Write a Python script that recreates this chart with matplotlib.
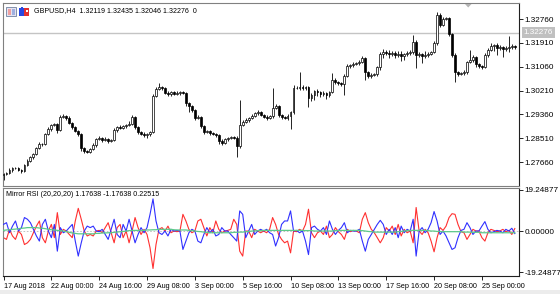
import matplotlib
matplotlib.use('Agg')
import matplotlib.pyplot as plt
from matplotlib.patches import Rectangle, Polygon
import matplotlib.transforms as mtransforms
import numpy as np

plt.rcParams['font.family'] = ['Liberation Sans', 'DejaVu Sans']

# ---------------- data ----------------
closes = [
    1.27233, 1.27268, 1.27375, 1.27447, 1.27447, 1.27375, 1.27340, 1.27554, 1.27696, 1.27839,
    1.27946, 1.28160, 1.28302, 1.28302, 1.28659, 1.28837, 1.28980, 1.29016, 1.28802, 1.29265,
    1.29301, 1.29230, 1.29051, 1.28909, 1.28766, 1.28659, 1.28160, 1.28053, 1.28017, 1.28124,
    1.28267, 1.28481, 1.28516, 1.28445, 1.28481, 1.28409, 1.28445, 1.28802, 1.28909, 1.28873,
    1.28944, 1.28980, 1.29016, 1.29265, 1.28909, 1.28730, 1.28659, 1.28623, 1.28659, 1.28730,
    1.30014, 1.30264, 1.30335, 1.30299, 1.30121, 1.30085, 1.30157, 1.30085, 1.30121, 1.30157,
    1.30121, 1.29765, 1.29658, 1.29515, 1.29230, 1.29265, 1.28944, 1.28730, 1.28766, 1.28695,
    1.28659, 1.28623, 1.28409, 1.28338, 1.28481, 1.28516, 1.28552, 1.28516, 1.28231, 1.28980,
    1.29087, 1.29158, 1.29230, 1.29301, 1.29408, 1.29444, 1.29337, 1.29265, 1.29230, 1.29301,
    1.29586, 1.29658, 1.29337, 1.29265, 1.29230, 1.29301, 1.29444, 1.30299, 1.30299, 1.30335,
    1.30299, 1.30335, 1.29943, 1.30050, 1.30192, 1.30157, 1.30085, 1.30121, 1.30050, 1.30157,
    1.30585, 1.30513, 1.30478, 1.30442, 1.30727, 1.31084, 1.31120, 1.31155, 1.31191, 1.31227,
    1.31369, 1.30870, 1.30727, 1.30763, 1.30799, 1.31048, 1.31512, 1.31583, 1.31548, 1.31512,
    1.31548, 1.31476, 1.31512, 1.31441, 1.31512, 1.31548, 1.31583, 1.31940, 1.31476, 1.31512,
    1.31441, 1.31476, 1.31512, 1.31583, 1.31904, 1.32903, 1.32546, 1.32760, 1.32796, 1.32225,
    1.31476, 1.30870, 1.30799, 1.30834, 1.30870, 1.31227, 1.31298, 1.31405, 1.31155, 1.31084,
    1.31048, 1.31476, 1.31655, 1.31797, 1.31833, 1.31726, 1.31761, 1.31690, 1.31726, 1.31761,
    1.31797, 1.31761,
]
first_open = 1.27200
upper_wick_pips = [
    5, 4, 6, 3, 5, 4, 3, 4, 6, 4,
    5, 4, 6, 3, 4, 6, 4, 5, 3, 8,
    6, 4, 8, 5, 4, 3, 4, 3, 5, 4,
    6, 5, 8, 4, 6, 3, 5, 7, 4, 6,
    5, 4, 9, 6, 5, 3, 4, 6, 4, 5,
    6, 8, 14, 5, 4, 6, 5, 4, 6, 4,
    5, 4, 3, 5, 4, 6, 3, 4, 5, 3,
    4, 5, 3, 6, 5, 4, 5, 4, 6, 88,
    6, 8, 5, 6, 5, 7, 4, 5, 6, 5,
    70, 6, 4, 5, 4, 8, 5, 10, 6, 55,
    6, 5, 4, 6, 5, 8, 5, 6, 4, 5,
    25, 6, 5, 4, 8, 6, 5, 7, 4, 6,
    8, 4, 5, 6, 4, 5, 8, 12, 6, 10,
    6, 8, 10, 12, 5, 8, 6, 25, 6, 8,
    5, 14, 6, 5, 8, 11, 6, 8, 5, 4,
    5, 6, 4, 5, 6, 4, 36, 8, 5, 4,
    5, 8, 6, 10, 5, 8, 6, 5, 8, 39,
    6, 5,
]
lower_wick_pips = [
    18, 5, 4, 6, 4, 5, 6, 4, 5, 4,
    6, 5, 4, 8, 5, 4, 6, 5, 9, 4,
    5, 6, 4, 6, 5, 8, 12, 6, 5, 4,
    5, 6, 4, 8, 5, 6, 4, 5, 6, 4,
    5, 6, 4, 5, 8, 6, 5, 8, 10, 6,
    4, 5, 4, 6, 5, 8, 6, 5, 4, 6,
    5, 10, 22, 8, 6, 5, 6, 8, 5, 6,
    5, 6, 10, 8, 5, 6, 4, 5, 40, 6,
    5, 4, 6, 5, 4, 6, 5, 4, 6, 5,
    6, 5, 8, 6, 5, 8, 45, 6, 5, 8,
    6, 8, 32, 10, 18, 14, 12, 8, 16, 6,
    5, 6, 8, 6, 40, 5, 8, 6, 5, 6,
    5, 28, 6, 8, 5, 6, 10, 14, 6, 16,
    8, 10, 6, 18, 14, 6, 8, 6, 46, 8,
    25, 8, 6, 5, 4, 6, 8, 5, 4, 6,
    8, 36, 6, 5, 8, 6, 5, 8, 10, 6,
    8, 5, 6, 5, 18, 25, 8, 30, 6, 15,
    8, 6,
]
blue_vals = [
    3.1, 3.9, -0.8, 2.3, 4.7, 0.0, 1.6, 6.3, 5.5, 3.9,
    0.8, -2.3, -4.7, 3.1, 5.5, 0.0, -3.1, 3.1, -9.4, 1.6,
    -0.8, 0.0, 1.6, 3.1, -4.7, -11.7, -5.5, 0.0, 2.3, 1.6,
    2.3, 0.0, -0.3, 0.8, -1.6, -3.9, 0.8, 5.5, -1.6, -3.1,
    3.1, 0.0, 5.5, 0.0, -5.5, -1.6, 1.6, -0.8, 1.6, 7.8,
    15.0, 4.7, -0.8, -1.6, 0.0, -2.3, 0.8, 0.0, 0.3, 0.0,
    -8.6, -4.7, -0.8, 0.8, 0.0, -4.7, -5.5, -1.6, 1.6, -0.8,
    0.8, -2.3, -1.6, 1.6, 0.0, 0.0, -1.6, -3.1, -4.7, 9.4,
    7.8, -3.1, 0.0, 3.1, -1.6, 0.0, 0.8, 0.0, 0.8, -0.8,
    -1.6, -7.0, -3.1, 3.1, 4.7, 4.7, 9.4, 0.0, 0.3, -0.8,
    0.0, -4.7, -11.0, 1.6, 2.3, 0.8, 0.0, 1.6, -1.6, 4.7,
    0.8, -1.6, 0.3, 1.6, 3.9, -0.8, 0.3, 0.0, 0.0, 0.8,
    -4.7, -9.4, -3.9, -1.6, 0.8, 3.1, 5.0, 3.1, -1.6, 0.8,
    -1.6, 1.6, -3.1, 2.3, -0.8, 0.8, 0.0, 5.5, -11.7, 0.0,
    1.6, -0.8, 0.8, 3.9, 9.1, 4.7, -1.6, 0.0, -2.3, -5.5,
    -8.6, -7.8, -3.1, 0.3, 0.8, 3.9, 1.6, -1.6, 0.0, 0.0,
    2.3, 4.4, 0.8, -0.8, -0.3, 0.3, 0.0, -0.8, 0.8, 0.0,
    1.3, -1.18,
]
red_vals = [
    -3.1, -3.9, 0.8, -2.3, -3.9, 0.0, -1.6, -6.3, -5.5, -3.9,
    -0.8, 2.3, 4.7, -3.1, -5.5, 0.0, 3.1, -3.1, 8.6, -1.6,
    0.8, 0.0, -1.6, -3.1, 4.7, 10.6, 5.5, 0.0, -2.3, -1.6,
    -2.3, 0.0, 0.3, -0.8, 1.6, 3.9, -0.8, -5.5, 1.6, 3.1,
    -3.1, 0.0, -5.5, 0.0, 6.3, 1.6, -1.6, 0.8, -1.6, -7.8,
    -17.5, -6.3, 0.8, 1.6, 0.0, 2.3, -0.8, 0.0, -0.3, 0.0,
    7.8, 4.7, 0.8, -0.8, 0.0, 4.7, 5.5, 1.6, -2.3, 1.6,
    -0.8, 4.7, 0.8, -0.8, 0.0, 0.3, 0.8, 5.5, 3.1, -9.4,
    -11.7, 0.0, 0.0, -3.1, 0.8, 0.0, -0.8, 0.0, -0.8, 0.8,
    6.3, 3.1, -1.6, -3.9, -5.5, -4.7, -10.2, 0.0, -0.3, 0.8,
    0.0, 3.1, 10.2, -0.8, -3.1, -0.8, 0.0, -1.6, 2.3, -3.1,
    -1.6, 1.6, -0.3, -1.6, -3.9, 0.8, -0.3, 0.3, 0.0, -0.8,
    5.5, 8.6, 3.9, 0.8, -0.8, -3.1, -5.5, -3.1, 1.6, 0.0,
    2.3, -1.6, 3.1, -2.3, 0.8, -0.8, 0.0, -5.5, 11.0, 0.0,
    -1.6, 0.8, -0.8, -4.7, -9.7, -3.1, 1.6, 0.3, 2.3, 6.3,
    8.1, 7.8, 3.1, -0.3, -0.8, -3.9, -1.6, 0.8, 0.0, 0.0,
    -3.1, -4.7, -0.8, 0.8, 0.3, -0.3, 0.0, 0.8, -0.3, 0.3,
    -1.6, 1.18,
]
green_vals = [
    0.3, 0.5, 0.6, 0.8, 0.9, 1.1, 1.3, 1.4, 1.6, 1.6,
    1.6, 1.6, 1.4, 1.3, 1.1, 0.8, 0.6, 0.5, 0.3, 0.2,
    0.0, -0.3, -0.6, -0.9, -1.1, -1.3, -1.3, -1.3, -1.3, -1.3,
    -1.3, -1.1, -1.1, -0.9, -0.9, -0.8, -0.8, -0.6, -0.5, -0.3,
    -0.2, 0.0, 0.2, 0.3, 0.3, 0.3, 0.3, 0.3, 0.5, 0.5,
    0.6, 0.6, 0.8, 0.8, 0.8, 0.8, 0.8, 0.6, 0.5, 0.5,
    0.5, 0.5, 0.3, 0.2, 0.0, -0.2, -0.3, -0.5, -0.6, -0.8,
    -0.8, -0.8, -0.8, -0.8, -0.8, -0.8, -0.8, -0.6, -0.6, -0.5,
    -0.5, -0.3, -0.2, 0.0, 0.0, 0.2, 0.2, 0.3, 0.3, 0.3,
    0.3, 0.3, 0.3, 0.3, 0.3, 0.3, 0.3, 0.3, 0.3, 0.3,
    0.3, 0.2, 0.2, 0.2, 0.0, 0.0, 0.0, 0.0, 0.0, 0.0,
    0.0, 0.2, 0.2, 0.3, 0.3, 0.3, 0.3, 0.3, 0.3, 0.3,
    0.2, 0.0, -0.2, -0.3, -0.5, -0.5, -0.5, -0.5, -0.5, -0.5,
    -0.5, -0.5, -0.3, -0.2, 0.0, 0.2, 0.3, 0.3, 0.3, 0.3,
    0.3, 0.3, 0.2, 0.0, 0.0, -0.2, -0.2, -0.3, -0.3, -0.3,
    -0.3, -0.3, -0.3, -0.3, -0.5, -0.5, -0.5, -0.6, -0.6, -0.6,
    -0.8, -0.8, -0.8, -0.8, -0.8, -0.8, -0.8, -0.8, -0.8, -0.8,
    -0.8, -0.8,
]
price_ticks = [1.32760, 1.31910, 1.31060, 1.30210, 1.29360, 1.28510, 1.27660]
ind_ticks = [19.24877, 0.0, -19.24877]
ind_tick_labels = ['19.24877', '0.00000', '-19.24877']
time_tick_bars = [0, 16, 32, 48, 64, 80, 96, 112, 128, 144, 160]
time_tick_labels = ['17 Aug 2018', '22 Aug 00:00', '24 Aug 16:00', '29 Aug 08:00',
                    '3 Sep 00:00', '5 Sep 16:00', '10 Sep 08:00', '13 Sep 00:00',
                    '17 Sep 16:00', '20 Sep 08:00', '25 Sep 00:00']
current_price = 1.32276
title_main = 'GBPUSD,H4  1.32119 1.32435 1.32046 1.32276  0'
title_ind = 'Mirror RSI (20,20,20) 1.17638 -1.17638 0.22515'

# ---------------- layout ----------------
W, H = 560, 294
FS_Y = 5.9
FS_X = 5.2
FS_T = 5.1
fig = plt.figure(figsize=(W / 100, H / 100), dpi=100)
fig.patch.set_facecolor('white')


def rect(x0, y0, x1, y1):
    return [x0 / W, 1 - y1 / H, (x1 - x0) / W, (y1 - y0) / H]


ax = fig.add_axes(rect(3, 3, 519, 186))
ax2 = fig.add_axes(rect(3, 188, 519, 276))
XLIM = (-0.17, 172.4)

# ---------------- candles ----------------
c = np.array(closes)
o = np.array([first_open] + closes[:-1])
hi = np.maximum(o, c) + np.array(upper_wick_pips) * 1e-4
lo = np.minimum(o, c) - np.array(lower_wick_pips) * 1e-4
x = np.arange(len(c))
ax.axhline(current_price, color='#c4c4c4', lw=1.0, zorder=0)
ax.vlines(x, lo, hi, color='black', lw=0.6, zorder=2)
bull = c >= o
body = np.maximum(np.abs(c - o), 0.00004)
ax.bar(x[bull], body[bull], bottom=o[bull], width=0.62, facecolor='white',
       edgecolor='black', linewidth=0.5, zorder=3)
ax.bar(x[~bull], body[~bull], bottom=c[~bull], width=0.62, facecolor='black',
       edgecolor='black', linewidth=0.5, zorder=3)

ax.set_xlim(*XLIM)
ax.set_ylim(1.26805, 1.33331)
ax.set_xticks([])
ax.yaxis.tick_right()
ax.set_yticks(price_ticks)
ax.set_yticklabels([f'{p:.5f}' for p in price_ticks])
ax.tick_params(axis='y', length=3, width=0.6, pad=0.8, labelsize=FS_Y, colors='black')

trans = mtransforms.blended_transform_factory(ax.transAxes, ax.transData)
ax.text(1 + 4.5 / 516, current_price, f'{current_price:.5f}', transform=trans,
        ha='left', va='center', fontsize=FS_Y, color='white', zorder=5,
        bbox=dict(boxstyle='square,pad=0.2', fc='#c0c0c0', ec='none'))

# ---------------- indicator ----------------
ax2.axhline(0, color='#b8b8b8', lw=0.6, ls=(0, (2, 2)), zorder=0)
ax2.plot(x, red_vals, color='#ff3030', lw=0.8, zorder=2)
ax2.plot(x, blue_vals, color='#3030ff', lw=0.8, zorder=3)
ax2.plot(x, green_vals, color='#5cc98a', lw=0.9, zorder=4)
ax2.set_xlim(*XLIM)
ax2.set_ylim(-21.0, 20.1)
ax2.yaxis.tick_right()
ax2.set_yticks(ind_ticks)
ax2.set_yticklabels(ind_tick_labels)
ax2.tick_params(axis='y', length=3, width=0.6, pad=0.8, labelsize=FS_Y)
ax2.set_xticks(time_tick_bars)
ax2.set_xticklabels(time_tick_labels)
ax2.tick_params(axis='x', length=3, width=0.6, pad=1.8, labelsize=FS_X)
for lab in ax2.get_xticklabels():
    lab.set_ha('left')

for a, bottom_col in ((ax, '#808080'), (ax2, '#202020')):
    a.spines['left'].set_color('#808080')
    a.spines['top'].set_color('#808080')
    a.spines['right'].set_color('#202020')
    a.spines['bottom'].set_color(bottom_col)
    for s in a.spines.values():
        s.set_linewidth(0.8)

# ---------------- window decorations ----------------
ov = fig.add_axes([0, 0, 1, 1], zorder=10)
ov.set_xlim(0, W)
ov.set_ylim(H, 0)
ov.axis('off')
ov.patch.set_alpha(0)
ov.add_patch(Rectangle((0, 290), W, 4, fc='#ececec', ec='none'))
ov.add_patch(Polygon([(465, 4), (471.5, 4), (468.2, 7.5)], closed=True, fc='#b4b4b4', ec='none'))
# toolbar icons
ov.add_patch(Rectangle((6, 7), 10, 9, fc='#e4e4f0', ec='#7080a0', lw=0.6))
ov.add_patch(Rectangle((7.5, 9), 3.5, 5.5, fc='#f0a0a0', ec='none'))
ov.add_patch(Rectangle((11.5, 9), 3.5, 5.5, fc='#a0b0e0', ec='none'))
ov.add_patch(Rectangle((19, 8), 5, 8, fc='#2848e0', ec='none'))
ov.add_patch(Rectangle((24, 8), 5, 8, fc='#e03030', ec='none'))
ov.add_patch(Rectangle((20.5, 6.5), 2, 3, fc='#2848e0', ec='none'))
ov.add_patch(Rectangle((25.5, 9.5), 2, 2.5, fc='white', ec='none'))

fig.text(34 / W, 1 - 11 / H, title_main, fontsize=FS_T, ha='left', va='center')
fig.text(6 / W, 1 - 194 / H, title_ind, fontsize=FS_T, ha='left', va='center')

fig.savefig('out.png', dpi=100, facecolor='white')
